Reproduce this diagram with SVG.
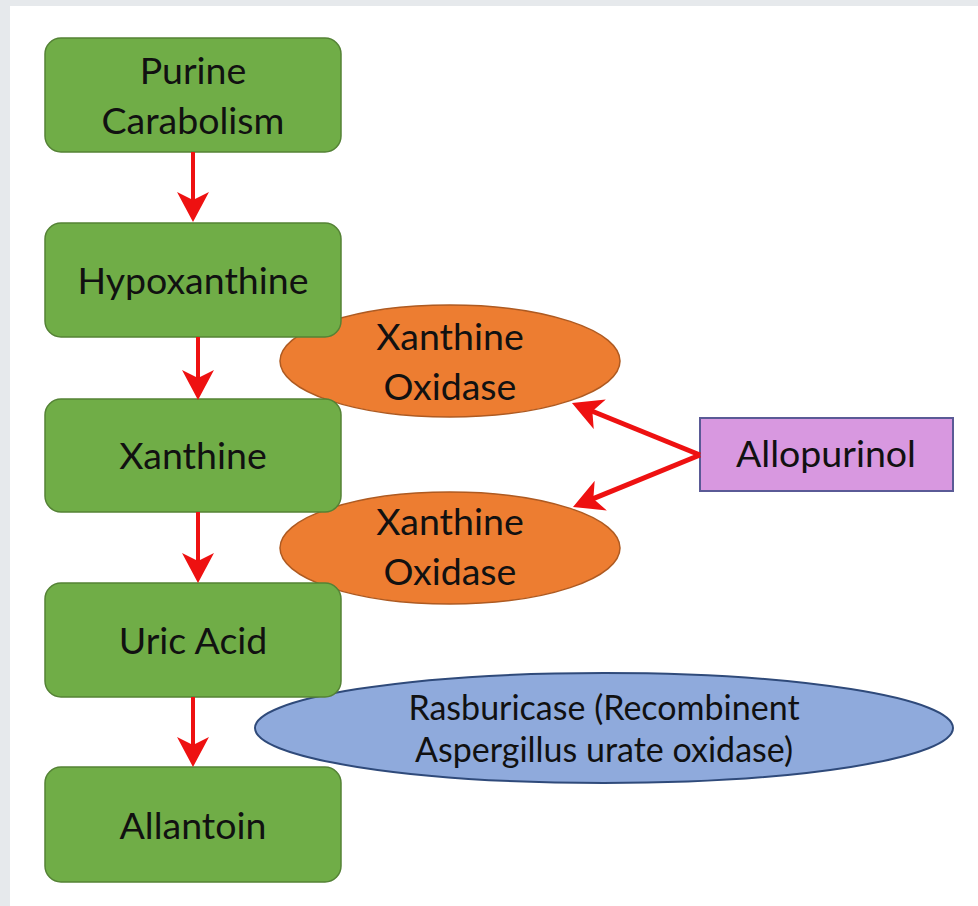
<svg xmlns="http://www.w3.org/2000/svg" width="978" height="906" viewBox="0 0 978 906">
<style>
.step{fill:#70ad47;stroke:#548235;stroke-width:1.5}
.enz{fill:#ed7d31;stroke:#ae5a21;stroke-width:1.5}
.ras{fill:#8faadc;stroke:#2f4a7a;stroke-width:2}
.drug{fill:#d898e0;stroke:#5a5a96;stroke-width:2}
.t{font-family:Lato,"Liberation Sans",sans-serif;font-size:37.5px;fill:#111;text-anchor:middle}
.ts{font-family:Lato,"Liberation Sans",sans-serif;font-size:34px;fill:#111;text-anchor:middle}
.c{stroke:#ee1111;fill:none}
</style>
<defs>
<marker id="ah" markerUnits="userSpaceOnUse" markerWidth="30" markerHeight="32" viewBox="0 -16 30 32" refX="10" refY="0" orient="auto">
<path d="M0,-16 L30,0 L0,16 L8,0 Z" fill="#ee1111"/>
</marker>
</defs>
<rect x="0" y="0" width="978" height="906" fill="#e6e9ec"/>
<rect x="10" y="6" width="968" height="900" fill="#ffffff"/>

<g id="xo1"><ellipse class="enz" cx="450" cy="361" rx="170" ry="56"/><text class="t" x="450" y="350">Xanthine</text><text class="t" x="450" y="400">Oxidase</text></g>
<g id="xo2"><ellipse class="enz" cx="450" cy="548" rx="170" ry="56"/><text class="t" x="450" y="535">Xanthine</text><text class="t" x="450" y="585">Oxidase</text></g>
<g id="rasburicase"><ellipse class="ras" cx="604" cy="728" rx="349" ry="55"/><text class="ts" x="604" y="720">Rasburicase (Recombinent</text><text class="ts" x="604" y="762">Aspergillus urate oxidase)</text></g>

<g id="purine"><rect class="step" x="45" y="38" width="296" height="114" rx="16"/><text class="t" x="193" y="84">Purine</text><text class="t" x="193" y="134">Carabolism</text></g>
<g id="hypoxanthine"><rect class="step" x="45" y="223" width="296" height="114" rx="16"/><text class="t" x="193" y="294">Hypoxanthine</text></g>
<g id="xanthine"><rect class="step" x="45" y="399" width="296" height="113" rx="16"/><text class="t" x="193" y="469">Xanthine</text></g>
<g id="uricacid"><rect class="step" x="45" y="583" width="296" height="114" rx="16"/><text class="t" x="193" y="654">Uric Acid</text></g>
<g id="allantoin"><rect class="step" x="45" y="767" width="296" height="115" rx="16"/><text class="t" x="193" y="839">Allantoin</text></g>
<g id="allopurinol"><rect class="drug" x="700" y="418" width="253" height="73"/><text class="t" x="826" y="467">Allopurinol</text></g>

<g id="connectors">
<line class="c" stroke-width="4" x1="193" y1="152" x2="193" y2="202" marker-end="url(#ah)"/>
<line class="c" stroke-width="4" x1="198" y1="337" x2="198" y2="380" marker-end="url(#ah)"/>
<line class="c" stroke-width="4" x1="198" y1="512" x2="198" y2="563" marker-end="url(#ah)"/>
<line class="c" stroke-width="4" x1="193" y1="697" x2="193" y2="747" marker-end="url(#ah)"/>
<line class="c" stroke-width="5" x1="700" y1="455" x2="590.5" y2="410.5" marker-end="url(#ah)"/>
<line class="c" stroke-width="5" x1="700" y1="455" x2="591.5" y2="499.4" marker-end="url(#ah)"/>
</g>
</svg>
